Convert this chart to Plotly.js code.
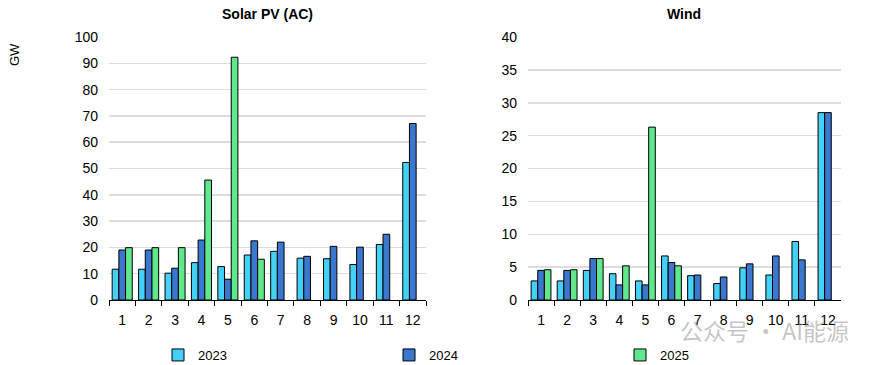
<!DOCTYPE html>
<html>
<head>
<meta charset="utf-8">
<script src="https://cdn.plot.ly/plotly-3.0.1.min.js"></script>
<style>html,body{margin:0;padding:0;background:#fff;}#chart{width:874px;height:365px;}</style>
</head>
<body>
<div id="chart"></div>
<script>
const months = ['1','2','3','4','5','6','7','8','9','10','11','12'];
const seriesNames = ['2023','2024','2025'];
const solar2023 = [11.7, 11.7, 10.2, 14.2, 12.7, 17.1, 18.5, 15.9, 15.7, 13.5, 21.1, 52.3];
const solar2024 = [19.0, 19.0, 12.1, 22.8, 7.9, 22.5, 22.0, 16.6, 20.4, 20.1, 25.0, 67.1];
const solar2025 = [19.9, 19.9, 19.9, 45.6, 92.3, 15.5, null, null, null, null, null, null];
const wind2023 = [2.9, 2.9, 4.5, 4.0, 2.9, 6.7, 3.7, 2.5, 4.9, 3.8, 8.9, 28.5];
const wind2024 = [4.5, 4.5, 6.3, 2.3, 2.3, 5.7, 3.8, 3.5, 5.5, 6.7, 6.1, 28.5];
const wind2025 = [4.6, 4.6, 6.3, 5.2, 26.3, 5.2, null, null, null, null, null, null];
const colors = ['#43d1f7', '#3b76cf', '#5fe88c'];

function bar(y, i, xa, ya, showleg) {
  return {type:'bar', x: months, y: y, name: seriesNames[i], xaxis: xa, yaxis: ya,
    marker:{color: colors[i], line:{color:'#000', width:1}}, showlegend: showleg, legendgroup: seriesNames[i]};
}
const data = [
  bar(solar2023,0,'x','y',true), bar(solar2024,1,'x','y',true), bar(solar2025,2,'x','y',true),
  bar(wind2023,0,'x2','y2',false), bar(wind2024,1,'x2','y2',false), bar(wind2025,2,'x2','y2',false)
];
const W = 874;
const xcommon = {type:'category', showline:true, linecolor:'#000', linewidth:1, ticks:'outside', tickson:'boundaries',
  ticklen:5, tickcolor:'#000', showgrid:false, zeroline:false, tickfont:{size:14, color:'#000'}, ticklabelstandoff:7, fixedrange:true};
const ycommon = {showgrid:true, gridcolor:'#dcdcdc', gridwidth:1.5, zeroline:false, showline:false, ticks:'',
  tickfont:{size:14, color:'#000'}, ticklabelstandoff:10};
const layout = {
  width: 874, height: 365,
  margin:{l:0, r:0, t:37, b:65},
  paper_bgcolor:'#fff', plot_bgcolor:'#fff',
  font:{family:'Liberation Sans, Arial, sans-serif', color:'#000'},
  barmode:'group', bargap:0.24, bargroupgap:0,
  xaxis: Object.assign({}, xcommon, {domain:[109/W, 426/W], anchor:'y'}),
  yaxis: Object.assign({}, ycommon, {range:[0,100], dtick:10, anchor:'x'}),
  xaxis2: Object.assign({}, xcommon, {domain:[528/W, 841/W], anchor:'y2'}),
  yaxis2: Object.assign({}, ycommon, {range:[0,40], dtick:5, anchor:'x2'}),
  legend:{orientation:'h', xref:'container', x:158/W, xanchor:'left', yref:'container', y:(365-355)/365, yanchor:'middle',
    entrywidth:186, entrywidthmode:'pixels', itemwidth:30, font:{size:13, color:'#000'}, bgcolor:'rgba(0,0,0,0)'},
  annotations:[
    {text:'<b>Solar PV (AC)</b>', xref:'paper', yref:'paper', x:267/W, y:(300-14)/263, xanchor:'center', yanchor:'middle', showarrow:false, font:{size:14}},
    {text:'<b>Wind</b>', xref:'paper', yref:'paper', x:684/W, y:(300-14)/263, xanchor:'center', yanchor:'middle', showarrow:false, font:{size:14}},
    {text:'GW', xref:'paper', yref:'paper', x:14/W, y:(300-55)/263, xanchor:'center', yanchor:'middle', showarrow:false, textangle:-90, font:{size:13}},
    {text:'公众号 · AI能源', xref:'paper', yref:'paper', x:764/W, y:(300-330)/263, xanchor:'center', yanchor:'middle', showarrow:false,
      font:{size:23, family:'Noto Sans CJK SC, sans-serif', color:'rgba(140,140,140,0.5)'}}
  ]
};
Plotly.newPlot('chart', data, layout, {displayModeBar:false, staticPlot:true});
</script>
</body>
</html>
